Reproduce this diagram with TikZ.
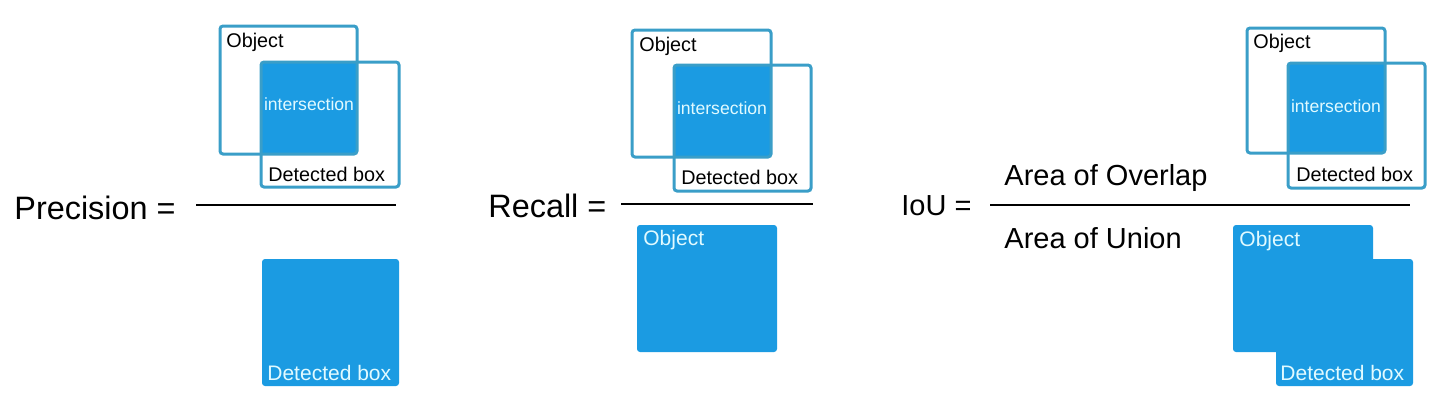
\documentclass[tikz,border=0pt]{standalone}
\usepackage{fontspec}
\setmainfont{Liberation Sans}
\usetikzlibrary{positioning}
\definecolor{boxblue}{RGB}{27,155,226}
\definecolor{boxedge}{RGB}{58,158,200}
\definecolor{boxtext}{RGB}{225,250,255}

\begin{document}
\begin{tikzpicture}[x=0.5pt,y=-0.5pt,
    outbox/.style={draw=boxedge,line width=1.5pt,rounded corners=1.5pt},
    fillbox/.style={fill=boxblue,rounded corners=1.5pt},
    lbl/.style={anchor=west,inner sep=0pt,font=\fontsize{9.9}{11}\selectfont},
    wlbl/.style={lbl,text=boxtext,font=\fontsize{10.5}{12}\selectfont},
    mid/.style={inner sep=0pt,text=boxtext,font=\fontsize{8.8}{10}\selectfont},
    big/.style={anchor=west,inner sep=0pt,font=\fontsize{16.2}{19}\selectfont},
    frac/.style={line width=1pt}]
  \useasboundingbox (0,0) rectangle (1440,414);

  % Precision
  \fill[fillbox] (261,62) rectangle (357,154);
  \draw[outbox] (220,26) rectangle (357,154);
  \draw[outbox] (261,62) rectangle (399,187);
  \node[lbl] (pobj) at (226,42) {Object};
  \node[mid] (pint) at (309,104) {intersection};
  \node[lbl] (pdet) at (268,174) {Detected box};
  \node[big] (prec) at (14,208) {Precision =};
  \coordinate (pl) at (196,205);
  \coordinate (pr) at (396,205);
  \draw[frac] (pl) -- (pr);
  \fill[fillbox] (262,259) rectangle (399,386);
  \node[wlbl] (pdet2) at (267,373) {Detected box};

  % Recall
  \fill[fillbox] (674,65) rectangle (771,157);
  \draw[outbox] (632,30) rectangle (771,157);
  \draw[outbox] (674,65) rectangle (811,191);
  \node[lbl] (robj) at (639,46) {Object};
  \node[mid] (rint) at (722,108) {intersection};
  \node[lbl] (rdet) at (681,177) {Detected box};
  \node[big] (rec) at (488,206) {Recall =};
  \coordinate (rl) at (621,204);
  \coordinate (rr) at (813,204);
  \draw[frac] (rl) -- (rr);
  \fill[fillbox] (637,225) rectangle (777,352);
  \node[wlbl] (robj2) at (643,240) {Object};

  % IoU
  \fill[fillbox] (1288,63) rectangle (1385,153);
  \draw[outbox] (1247,28) rectangle (1385,153);
  \draw[outbox] (1288,63) rectangle (1425,188);
  \node[lbl] (iobj) at (1253,43) {Object};
  \node[mid] (iint) at (1336,106) {intersection};
  \node[lbl] (idet) at (1296,174) {Detected box};
  \node[big,font=\fontsize{14.5}{17}\selectfont] (iou) at (901,206) {IoU =};
  \coordinate (il) at (990,205);
  \coordinate (ir) at (1410,205);
  \draw[frac] (il) -- (ir);
  \node[big,font=\fontsize{14.5}{17}\selectfont] (over) at (1004,178) {Area of Overlap};
  \node[big,font=\fontsize{14.5}{17}\selectfont] (union) at (1004,238) {Area of Union};
  \fill[fillbox] (1233,225) rectangle (1373,352);
  \fill[fillbox] (1276,259) rectangle (1413,386);
  \node[wlbl] (iobj2) at (1239,241) {Object};
  \node[wlbl] (idet2) at (1280,373) {Detected box};
\end{tikzpicture}
\end{document}
